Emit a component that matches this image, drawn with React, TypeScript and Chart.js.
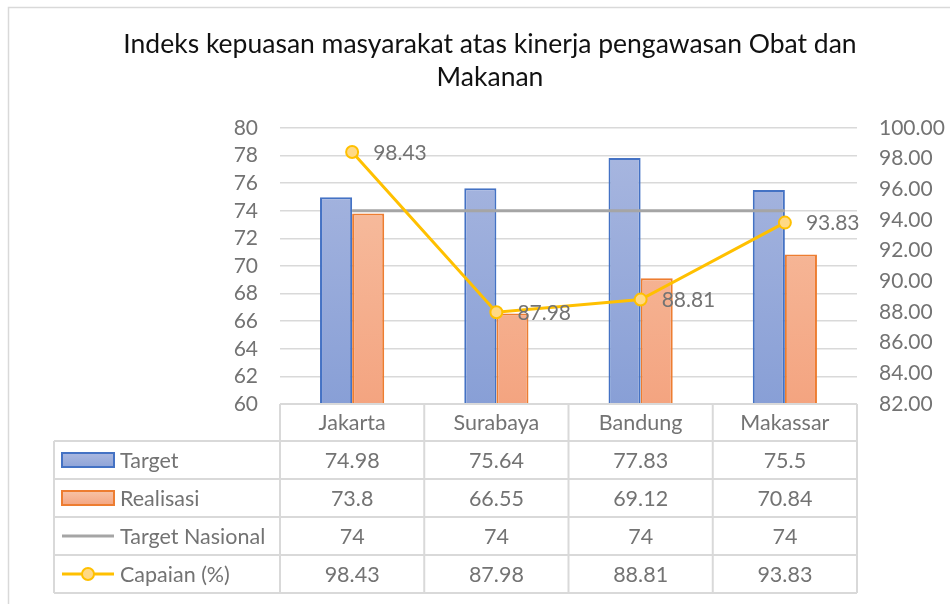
import React, { useEffect, useRef } from "react";
import { Chart, registerables } from "chart.js";

Chart.register(...registerables);

const categories = ["Jakarta", "Surabaya", "Bandung", "Makassar"];
const target = [74.98, 75.64, 77.83, 75.5];
const realisasi = [73.8, 66.55, 69.12, 70.84];
const targetNasional = [74, 74, 74, 74];
const capaian = [98.43, 87.98, 88.81, 93.83];
const seriesNames = ["Target", "Realisasi", "Target Nasional", "Capaian (%)"];
const titleLines = ["Indeks kepuasan masyarakat atas kinerja pengawasan Obat dan", "Makanan"];
const leftAxis = { min: 60, max: 80, step: 2 };
const rightAxis = { min: 82, max: 100, step: 2 };

const FONT = "Lato, 'Open Sans', sans-serif";
const TEXT = "#737373";
const GRID = "#D9D9D9";
const BLUE = "#4472C4";
const ORANGE = "#ED7D31";
const GRAY = "#A5A5A5";
const GOLD = "#FFC000";
const GOLD_FILL = "#FFD985";
const TABLE_FONT = 21.5;
const TICK_FONT = 21;

const tablePlugin = {
  id: "excelTable",
  afterDatasetsDraw(chart: any) {
    const ctx = chart.ctx as CanvasRenderingContext2D;
    const xs = chart.scales.x;
    const yr = chart.scales.yRight;
    ctx.save();
    ctx.font = `${TICK_FONT}px ${FONT}`;
    ctx.fillStyle = TEXT;
    ctx.textAlign = "left";
    ctx.textBaseline = "middle";
    capaian.forEach((v, i) => {
      const x = xs.getPixelForValue(i);
      const y = yr.getPixelForValue(v);
      ctx.fillText(v.toFixed(2), x + 21, y + 1);
    });
    ctx.restore();
  },
  afterDraw(chart: any) {
    const ctx = chart.ctx as CanvasRenderingContext2D;
    const area = chart.chartArea;
    const xs = chart.scales.x;
    const W = chart.width;
    const H = chart.height;
    ctx.save();
    // outer border
    ctx.strokeStyle = GRID;
    ctx.lineWidth = 1.5;
    ctx.beginPath();
    ctx.moveTo(8.5, H + 2);
    ctx.lineTo(8.5, 7.5);
    ctx.lineTo(W + 2, 7.5);
    ctx.stroke();

    // title
    ctx.fillStyle = "#111111";
    ctx.font = `26.5px ${FONT}`;
    ctx.textAlign = "center";
    ctx.textBaseline = "middle";
    ctx.fillText(titleLines[0], 490, 44);
    ctx.fillText(titleLines[1], 490, 77);

    // table
    const left = 54;
    const headerTop = area.bottom;
    const headerH = 37;
    const rowH = 38;
    const n = categories.length;
    const cw = (area.right - area.left) / n;
    const rowsTop = headerTop + headerH;
    const bottom = rowsTop + rowH * 4;
    ctx.strokeStyle = GRID;
    ctx.lineWidth = 2;
    ctx.beginPath();
    ctx.moveTo(area.left, headerTop);
    ctx.lineTo(area.right, headerTop);
    for (let r = 0; r <= 4; r++) {
      const y = rowsTop + r * rowH;
      ctx.moveTo(left, y);
      ctx.lineTo(area.right, y);
    }
    for (let c = 0; c <= n; c++) {
      const x = area.left + c * cw;
      ctx.moveTo(x, headerTop);
      ctx.lineTo(x, bottom);
    }
    ctx.moveTo(left, rowsTop);
    ctx.lineTo(left, bottom);
    ctx.stroke();

    ctx.font = `${TABLE_FONT}px ${FONT}`;
    ctx.fillStyle = TEXT;
    ctx.textAlign = "center";
    ctx.textBaseline = "middle";
    categories.forEach((c, i) => {
      ctx.fillText(c, xs.getPixelForValue(i), headerTop + headerH / 2 + 1);
    });
    const rows = [target, realisasi, targetNasional, capaian];
    rows.forEach((vals, r) => {
      const cy = rowsTop + r * rowH + rowH / 2 + 1;
      vals.forEach((v, i) => {
        ctx.fillText(String(v), xs.getPixelForValue(i), cy);
      });
    });

    // legend keys
    ctx.textAlign = "left";
    seriesNames.forEach((name, r) => {
      const cy = rowsTop + r * rowH + rowH / 2;
      const kx = 62;
      const kw = 52;
      if (r === 0 || r === 1) {
        const g = ctx.createLinearGradient(0, cy - 7, 0, cy + 7);
        if (r === 0) {
          g.addColorStop(0, "#AAB8E0");
          g.addColorStop(1, "#8FA4D8");
        } else {
          g.addColorStop(0, "#F7C3A7");
          g.addColorStop(1, "#F4A682");
        }
        ctx.fillStyle = g;
        ctx.fillRect(kx, cy - 7, kw, 14);
        ctx.strokeStyle = r === 0 ? BLUE : ORANGE;
        ctx.lineWidth = 2;
        ctx.strokeRect(kx, cy - 7, kw, 14);
      } else if (r === 2) {
        ctx.strokeStyle = GRAY;
        ctx.lineWidth = 3;
        ctx.beginPath();
        ctx.moveTo(kx, cy);
        ctx.lineTo(kx + kw, cy);
        ctx.stroke();
      } else {
        ctx.strokeStyle = GOLD;
        ctx.lineWidth = 3;
        ctx.beginPath();
        ctx.moveTo(kx, cy);
        ctx.lineTo(kx + kw, cy);
        ctx.stroke();
        ctx.beginPath();
        ctx.arc(kx + kw / 2, cy, 6, 0, Math.PI * 2);
        ctx.fillStyle = GOLD_FILL;
        ctx.fill();
        ctx.lineWidth = 2;
        ctx.stroke();
      }
      ctx.fillStyle = TEXT;
      ctx.fillText(name, 120, cy + 1);
    });
    ctx.restore();
  },
};

function barGradient(top: string, bottom: string) {
  return (context: any) => {
    const chart = context.chart;
    const area = chart.chartArea;
    if (!area) return top;
    const g = chart.ctx.createLinearGradient(0, area.top, 0, area.bottom);
    g.addColorStop(0, top);
    g.addColorStop(1, bottom);
    return g;
  };
}

export default function App() {
  const ref = useRef<HTMLCanvasElement | null>(null);
  useEffect(() => {
    if (!ref.current) return;
    const chart = new Chart(ref.current, {
      type: "bar",
      data: {
        labels: categories,
        datasets: [
          {
            type: "line",
            label: seriesNames[3],
            data: capaian,
            yAxisID: "yRight",
            borderColor: GOLD,
            borderWidth: 3,
            pointRadius: 6,
            pointBackgroundColor: GOLD_FILL,
            pointBorderColor: GOLD,
            pointBorderWidth: 2,
            tension: 0,
            order: 0,
          } as any,
          {
            type: "line",
            label: seriesNames[2],
            data: targetNasional,
            yAxisID: "y",
            borderColor: GRAY,
            borderWidth: 3,
            pointRadius: 0,
            tension: 0,
            order: 1,
          } as any,
          {
            label: seriesNames[0],
            data: target,
            yAxisID: "y",
            backgroundColor: barGradient("#AAB8E0", "#889FD6"),
            borderColor: BLUE,
            borderWidth: 2,
            borderSkipped: false,
            categoryPercentage: 0.445,
            barPercentage: 1,
            order: 2,
          },
          {
            label: seriesNames[1],
            data: realisasi,
            yAxisID: "y",
            backgroundColor: barGradient("#F7C3A7", "#F4A480"),
            borderColor: ORANGE,
            borderWidth: 2,
            borderSkipped: false,
            categoryPercentage: 0.445,
            barPercentage: 1,
            order: 3,
          },
        ],
      },
      options: {
        responsive: false,
        animation: false,
        layout: { padding: { top: 128, bottom: 200, left: 0, right: 0 } },
        plugins: {
          legend: { display: false },
          title: { display: false },
          tooltip: { enabled: false },
        },
        scales: {
          x: { display: false, offset: true },
          y: {
            position: "left",
            min: leftAxis.min,
            max: leftAxis.max,
            ticks: {
              stepSize: leftAxis.step,
              autoSkip: false,
              color: TEXT,
              font: { family: FONT, size: TICK_FONT },
              padding: 22,
            },
            grid: { color: GRID, lineWidth: 1.5, drawTicks: false },
            border: { display: false },
            afterFit: (s: any) => {
              s.width = 280;
            },
          },
          yRight: {
            position: "right",
            min: rightAxis.min,
            max: rightAxis.max,
            ticks: {
              stepSize: rightAxis.step,
              autoSkip: false,
              color: TEXT,
              font: { family: FONT, size: TICK_FONT },
              padding: 22,
              callback: (v: any) => Number(v).toFixed(2),
            },
            grid: { display: false, drawTicks: false },
            border: { display: false },
            afterFit: (s: any) => {
              s.width = 93;
            },
          },
        },
      },
      plugins: [tablePlugin],
    });
    return () => chart.destroy();
  }, []);
  return (
    <div style={{ position: "absolute", left: 0, top: 0, width: 950, height: 604, background: "#fff" }}>
      <canvas ref={ref} width={950} height={604} style={{ display: "block" }} />
    </div>
  );
}
